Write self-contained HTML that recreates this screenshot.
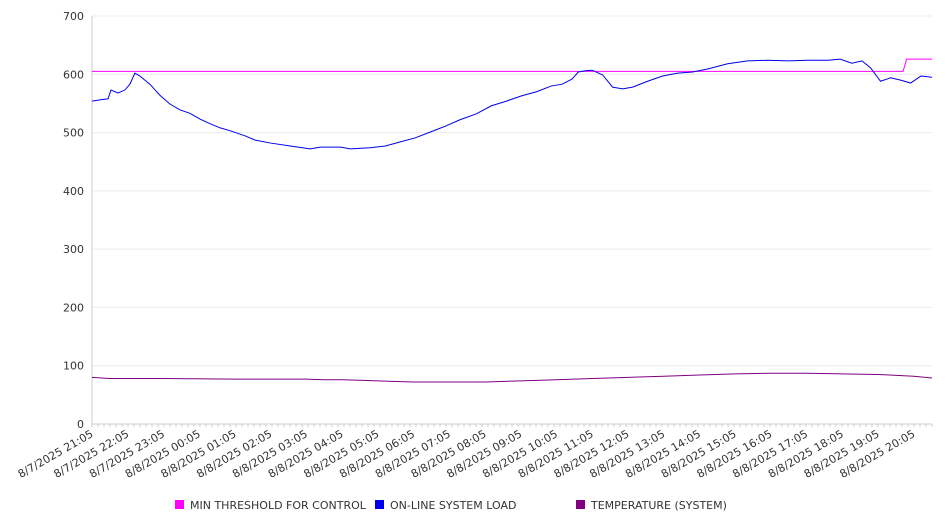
<!DOCTYPE html>
<html><head><meta charset="utf-8"><style>
body{margin:0;background:#fff;font-family:"DejaVu Sans","Liberation Sans",sans-serif;}
svg text{font-family:"DejaVu Sans","Liberation Sans",sans-serif;font-size:11px;fill:#333;}
</style></head><body>
<svg id="chart" width="946" height="526" xmlns="http://www.w3.org/2000/svg"></svg>
<script>
const tickLabels=["8/7/2025 21:05","8/7/2025 22:05","8/7/2025 23:05","8/8/2025 00:05","8/8/2025 01:05","8/8/2025 02:05","8/8/2025 03:05","8/8/2025 04:05","8/8/2025 05:05","8/8/2025 06:05","8/8/2025 07:05","8/8/2025 08:05","8/8/2025 09:05","8/8/2025 10:05","8/8/2025 11:05","8/8/2025 12:05","8/8/2025 13:05","8/8/2025 14:05","8/8/2025 15:05","8/8/2025 16:05","8/8/2025 17:05","8/8/2025 18:05","8/8/2025 19:05","8/8/2025 20:05"];
const yTicks=[0,100,200,300,400,500,600,700];
const loadHours=[0,0.22,0.45,0.53,0.73,0.92,1.06,1.2,1.34,1.62,1.9,2.18,2.46,2.74,3.03,3.31,3.59,3.87,4.3,4.57,5.0,5.55,6.11,6.39,6.96,7.23,7.79,8.21,8.63,9.05,9.47,9.89,10.3,10.75,11.18,11.6,12.02,12.44,12.86,13.16,13.44,13.61,13.81,14.0,14.29,14.57,14.85,15.13,15.55,15.97,16.39,16.81,17.23,17.79,18.35,18.91,19.47,20.04,20.6,20.94,21.27,21.55,21.79,22.07,22.35,22.63,22.91,23.2,23.51];
const loadValues=[554,556,558,573,568,573,583,602,597,583,564,549,539,533,523,515,508,503,494,487,482,477,472,475,475,472,474,477,484,491,501,511,522,532,546,554,563,570,580,583,592,604,606,607,599,578,575,578,588,597,602,604,609,618,623,624,623,624,624,626,619,623,611,588,594,590,585,597,595];
const threshHours=[0,22.7,22.8,23.51];
const threshValues=[605,605,626,626];
const tempHours=[0,0.5,1,3,4,6,6.5,7,8,9,10,11,12,13,14,15,17,18,19,20,21,22,23,23.51];
const tempValues=[80,80,78,78,77,77,76,76,76,76,76,74,73,72,72,72,72,72,73,75,77,79,81,83];
const tempHours2=[12,13,14,15,16,17,18,19,20,21,22,23,23.51];
const tempValues2=[72,72,73,75,77,79,81,84,86,87,86,87,86];
const tempAll=[[0,80],[1,78],[3,78],[4,77],[6,77],[7,77],[8.2,75],[9,74],[10,72],[11,72],[12,72],[13,72],[14,74],[15,76],[16,78],[17,80],[18,82],[19,84],[20,86],[21,87],[21.5,87],[22,87],[23,87],[24,87]];
const tH=[0,1,3,4,5,6,7,8,9,10,11,12,13,14,15,16,17,18,19,20,21,22,23,23.51];
const tV=[80,78,78,77,77,77,77,77,76,73,72,71,72,74,76,78,80,82,84,86,87,87,87,87];
const tempH=[0,1,2,3,4,5,6,7,8,9,10,11,12,13,14,15,16,17,18,19,20,21,22,23,23.51];
const tempV=[80,78,78,77,77,77,77,77,76,74,72,72,71,72,74,76,78,80,82,84,86,87,87,86,84];
const temperatureHours=[0,0.5,2,4,6,6.5,7,8,9,10,11,12,13,14,15,16,17,18,19,20,21,22,23,23.51];
const temperatureValues=[80,78,78,77,77,76,76,75,73,72,72,72,74,76,78,80,82,84,86,87,87,86,85,84];
const tempFinalH=[0,0.5,2,4,6,6.5,7,7.5,8,9,10,11,12,13,14,15,16,17,18,19,20,21,22,23,23.51];
const tempFinalV=[80,78,78,77,77,76,76,75,74,72,72,72,74,76,78,80,82,84,86,87,87,86,85,82,79];
const X0=92,X1=932,Y0=424,Y1=16,HMAX=23.51;
const sx=h=>X0+h*(X1-X0)/HMAX, sy=v=>Y0-v*(Y0-Y1)/700;
const svg=document.getElementById('chart');const NS='http://www.w3.org/2000/svg';
function el(t,a){const e=document.createElementNS(NS,t);for(const k in a)e.setAttribute(k,a[k]);svg.appendChild(e);return e;}
yTicks.forEach(v=>{const g=el('line',{x1:X0,x2:X1,y1:sy(v),y2:sy(v),stroke:v?'#ececec':'#ccc'});


const t=el('text',{x:X0-8,y:sy(v)+4,'text-anchor':'end'});t.textContent=v;

});
const ya=el('line',{x1:X0,x2:X0,y1:Y1,y2:Y0,stroke:'#ccc'});


for(let i=0;i<=140;i++){const x=X0+i*(X1-X0)/140;el('line',{x1:x,x2:x,y1:Y0,y2:Y0+3,stroke:'#ccc'});}
tickLabels.forEach((s,i)=>{const x=sx(i)+2,y=Y0+12;const t=el('text',{x:x,y:y,'text-anchor':'end',transform:`rotate(-30 ${x} ${y})`});t.textContent=s;

});
function line(H,V,c,name){const p=el('polyline',{points:H.map((h,i)=>sx(h)+','+sy(V[i])).join(' '),fill:'none',stroke:c,'stroke-width':1});

}
line(threshHours,threshValues,'#ff00ff','threshold-line');
line(loadHours,loadValues,'#0000ee','load-line');
line(tempFinalH,tempFinalV,'#800080','temperature-line');
const leg=[['MIN THRESHOLD FOR CONTROL','#ff00ff',175],['ON-LINE SYSTEM LOAD','#0000ee',375],['TEMPERATURE (SYSTEM)','#800080',576]];
leg.forEach(([n,c,x])=>{const r=el('rect',{x:x,y:500,width:9,height:9,fill:c});


const t=el('text',{x:x+15,y:509});t.textContent=n;

});
</script>
</body></html>
